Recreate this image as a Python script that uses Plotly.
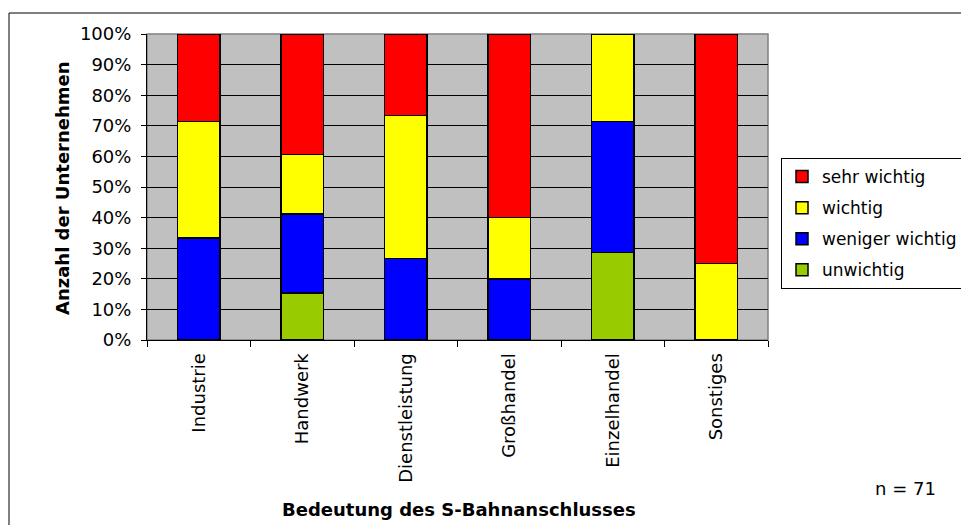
import plotly.graph_objects as go

categories = ["Industrie", "Handwerk", "Dienstleistung", "Großhandel", "Einzelhandel", "Sonstiges"]
unwichtig = [0, 15.4, 0, 0, 28.6, 0]
weniger_wichtig = [33.3, 25.7, 26.7, 20.0, 42.8, 0]
wichtig = [38.1, 19.6, 46.6, 20.0, 28.6, 25.0]
sehr_wichtig = [28.6, 39.3, 26.7, 60.0, 0, 75.0]
y_ticks = [0, 10, 20, 30, 40, 50, 60, 70, 80, 90, 100]
y_ticklabels = [f"{v}%" for v in y_ticks]

series = [
    ("unwichtig", unwichtig, "#99CC00"),
    ("weniger wichtig", weniger_wichtig, "#0000FF"),
    ("wichtig", wichtig, "#FFFF00"),
    ("sehr wichtig", sehr_wichtig, "#FF0000"),
]

W, H = 961, 525
L, R, T, B = 147, 768, 34, 340

def px(xp):
    return (xp - L) / (R - L)

def py(yp):
    return (B - yp) / (B - T)

fig = go.Figure()
for i, (name, vals, col) in enumerate(series):
    fig.add_trace(go.Bar(
        x=categories, y=vals, name=name, legendgroup=f"g{i}",
        legendrank=100 - i,
        marker=dict(color=col, line=dict(color="black", width=1.5)),
        width=0.41,
    ))

FONT = "DejaVu Sans, Verdana, sans-serif"
FS = 18

fig.update_layout(
    width=W, height=H,
    margin=dict(l=L, r=W - R, t=T, b=H - B, pad=0, autoexpand=False),
    barmode="stack",
    paper_bgcolor="white",
    plot_bgcolor="#C0C0C0",
    font=dict(family=FONT, size=FS, color="black"),
    showlegend=True,
    legend=dict(
        traceorder="grouped",
        x=px(781), xanchor="left",
        y=py(158), yanchor="top",
        bordercolor="black", borderwidth=1,
        bgcolor="white",
        font=dict(family=FONT, size=17),
        tracegroupgap=6,
    ),
    xaxis=dict(
        type="category",
        tickangle=-90,
        ticks="outside", ticklen=6, tickcolor="black",
        tickson="boundaries",
        showline=True, linecolor="black", linewidth=1,
        showgrid=False,
        automargin=False,
        ticklabelstandoff=5,
        tickfont=dict(family=FONT, size=FS),
    ),
    yaxis=dict(
        range=[0, 100],
        tickvals=y_ticks, ticktext=y_ticklabels,
        ticks="outside", ticklen=5, tickcolor="black",
        showline=True, linecolor="black", linewidth=1,
        showgrid=True, gridcolor="black", gridwidth=1,
        zeroline=False,
        automargin=False,
        ticklabelstandoff=6,
        tickfont=dict(family=FONT, size=FS),
    ),
    shapes=[
        dict(type="rect", xref="paper", yref="paper",
             x0=0, x1=1, y0=0, y1=1,
             line=dict(color="#808080", width=1.5), layer="below"),
        dict(type="rect", xref="paper", yref="paper",
             x0=px(9), x1=px(975), y0=py(540), y1=py(13),
             line=dict(color="black", width=1), fillcolor="rgba(0,0,0,0)"),
    ],
    annotations=[
        dict(text="<b>Anzahl der Unternehmen</b>", xref="paper", yref="paper",
             x=px(62), y=py(188), textangle=-90, showarrow=False,
             xanchor="center", yanchor="middle",
             font=dict(family=FONT, size=FS)),
        dict(text="<b>Bedeutung des S-Bahnanschlusses</b>", xref="paper", yref="paper",
             x=px(459), y=py(509), showarrow=False,
             xanchor="center", yanchor="middle",
             font=dict(family=FONT, size=FS)),
        dict(text="n = 71", xref="paper", yref="paper",
             x=px(905), y=py(488), showarrow=False,
             xanchor="center", yanchor="middle",
             font=dict(family=FONT, size=FS)),
    ],
)

fig.write_html("out.html", config={"displayModeBar": False},
               post_script="document.body.style.margin='0';document.body.style.padding='0';")
